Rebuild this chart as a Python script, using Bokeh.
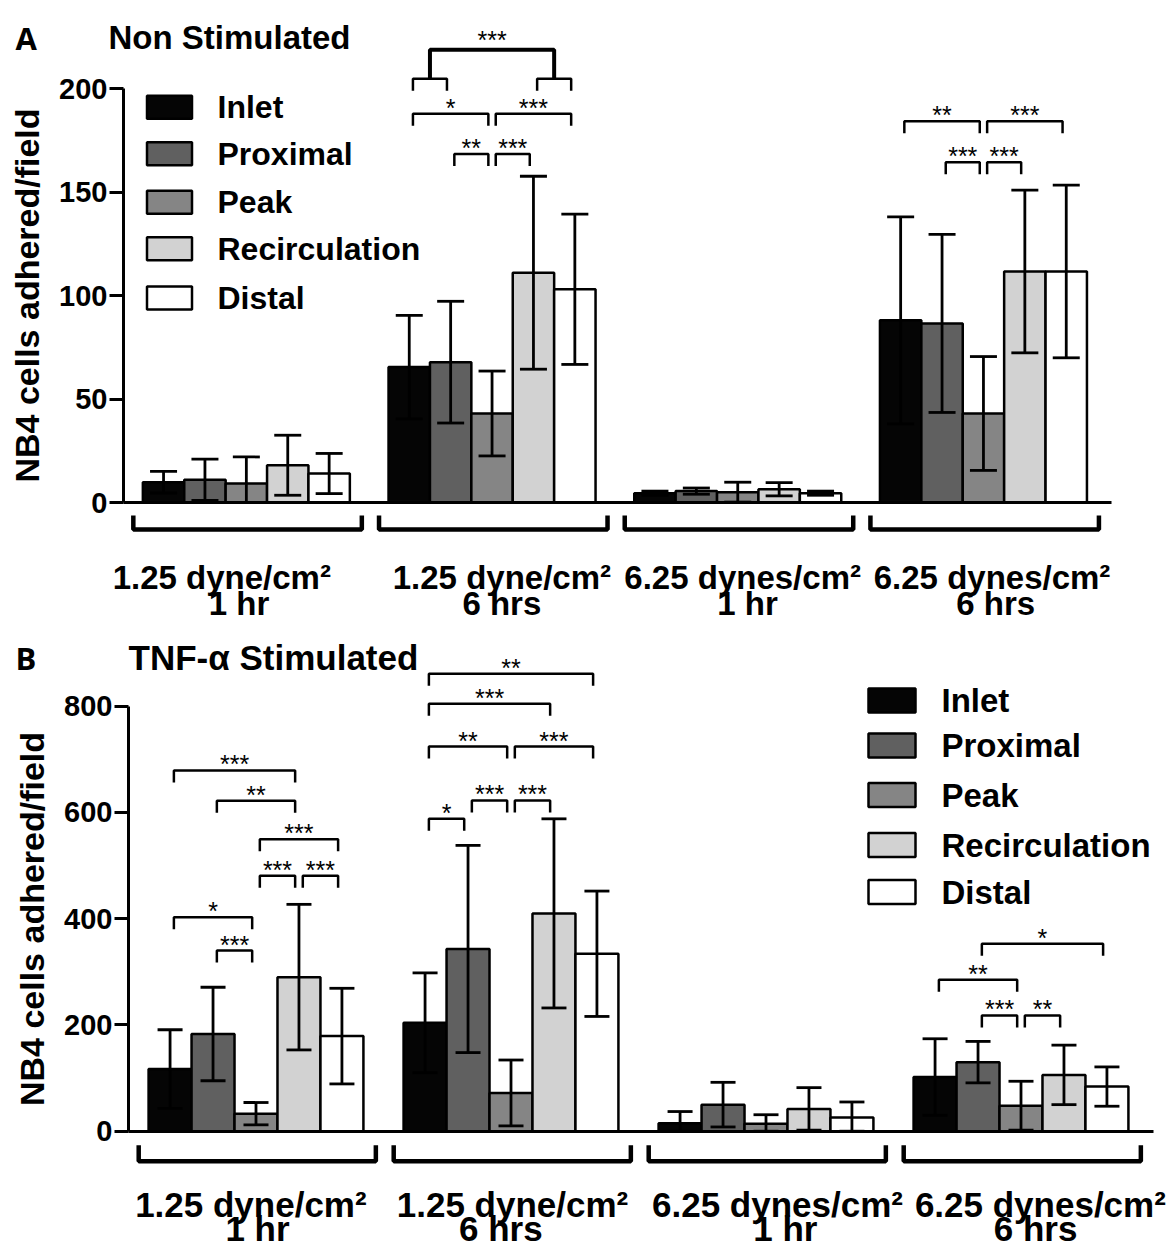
from bokeh.plotting import figure
from bokeh.models import Range1d, Whisker, ColumnDataSource, TeeHead, FixedTicker
from bokeh.layouts import column
from bokeh.embed import file_html
from bokeh.resources import INLINE
from bokeh.core.properties import value

# ---------------- data ----------------
categories = ["Inlet", "Proximal", "Peak", "Recirculation", "Distal"]
cond_line1 = ["1.25 dyne/cm²", "1.25 dyne/cm²", "6.25 dynes/cm²", "6.25 dynes/cm²"]
cond_line2 = ["1 hr", "6 hrs", "1 hr", "6 hrs"]
bar_colors = ["#050505", "#606060", "#858585", "#d2d2d2", "#ffffff"]

# Panel A: Non Stimulated (mean, sd) per location, across the 4 conditions
a_inlet = [9.8, 65.4, 4.5, 88.0]
a_proximal = [11.0, 67.8, 5.5, 86.5]
a_peak = [9.2, 43.0, 5.0, 43.0]
a_recirc = [18.0, 111.0, 6.4, 111.6]
a_distal = [14.0, 103.0, 4.5, 111.6]
a_inlet_sd = [5.2, 25.0, 1.0, 50.0]
a_proximal_sd = [10.0, 29.4, 1.5, 43.0]
a_peak_sd = [12.8, 20.5, 4.8, 27.5]
a_recirc_sd = [14.5, 46.6, 3.2, 39.3]
a_distal_sd = [9.7, 36.3, 1.0, 41.7]
a_ticks = [0, 50, 100, 150, 200]

# Panel B: TNF-alpha Stimulated
b_inlet = [117, 204, 15, 102]
b_proximal = [183, 343, 50, 130]
b_peak = [33, 72, 14, 48]
b_recirc = [290, 410, 42, 106]
b_distal = [179, 334, 26, 84]
b_inlet_sd = [74, 94, 22, 72]
b_proximal_sd = [88, 195, 42, 39]
b_peak_sd = [21, 62, 17, 46]
b_recirc_sd = [137, 178, 40, 56]
b_distal_sd = [90, 118, 29, 37]
b_ticks = [0, 200, 400, 600, 800]

# significance brackets: (condition index, bar i, bar j, level, label)
a_brackets = [
    (1, 1, 2, 168.4, "**"), (1, 2, 3, 168.4, "***"),
    (1, 0, 2, 187.8, "*"), (1, 2, 4, 187.8, "***"),
    (1, 0, 1, 204.7, ""), (1, 3, 4, 204.7, ""),
    (3, 0, 2, 184.2, "**"), (3, 2, 4, 184.2, "***"),
    (3, 1, 2, 164.4, "***"), (3, 2, 3, 164.4, "***"),
]
# nested comparison: (condition, left pair, right pair, pair level, top level, label)
a_nested = [(1, (0, 1), (3, 4), 204.7, 218.7, "***")]

b_brackets = [
    (0, 0, 3, 679, "***"), (0, 1, 3, 622, "**"), (0, 2, 4, 549.6, "***"),
    (0, 2, 3, 481, "***"), (0, 3, 4, 481, "***"), (0, 0, 2, 402.8, "*"),
    (0, 1, 2, 340, "***"),
    (1, 0, 4, 861, "**"), (1, 0, 3, 804.5, "***"), (1, 0, 2, 724, "**"),
    (1, 2, 4, 724, "***"), (1, 0, 1, 588, "*"), (1, 1, 2, 622.5, "***"),
    (1, 2, 3, 622.5, "***"),
    (3, 1, 4, 352.8, "*"), (3, 0, 2, 285, "**"), (3, 1, 2, 217.8, "***"),
    (3, 2, 3, 217.8, "**"),
]

BW = 0.1685
SANS = "Liberation Sans"


def bar_x(g, k):
    return g + (k - 2) * BW


def make_panel(means, sds, ticks, brackets, nested, cfg):
    x0p, sxp, y0p, syp = cfg["x0p"], cfg["sxp"], cfg["y0p"], cfg["syp"]
    top, bot = cfg["page_top"], cfg["page_bot"]

    def dx(px):
        return -0.5 + (px - x0p) / sxp

    def dy(py):
        return (y0p - py) / syp

    W = 1173
    H = bot - top
    p = figure(width=W, height=H, output_backend="svg", toolbar_location=None,
               x_range=Range1d(dx(0), dx(W)), y_range=Range1d(dy(bot), dy(top)),
               min_border_left=0, min_border_right=0,
               min_border_top=0, min_border_bottom=0)
    p.outline_line_color = None
    p.grid.visible = False
    p.background_fill_color = "white"

    # bars and error bars
    for k, cat in enumerate(categories):
        xs = [bar_x(g, k) for g in range(4)]
        m = means[k]
        s = sds[k]
        src = ColumnDataSource(dict(x=xs, top=m,
                                    upper=[a + b for a, b in zip(m, s)],
                                    lower=[max(0, a - b) for a, b in zip(m, s)]))
        p.vbar(x="x", top="top", bottom=0, width=BW, source=src,
               fill_color=bar_colors[k], line_color="black", line_width=2.5)
        w = Whisker(base="x", upper="upper", lower="lower", source=src,
                    line_color="black", line_width=2.8, level="overlay",
                    upper_head=TeeHead(size=cfg["cap"], line_width=2.8, line_color="black"),
                    lower_head=TeeHead(size=cfg["cap"], line_width=2.8, line_color="black"))
        p.add_layout(w)

    # axes (placed at fixed data locations inside the frame)
    p.xaxis.fixed_location = 0
    p.xaxis.bounds = (-0.5, 3.52)
    p.xaxis.axis_line_width = 3
    p.xaxis.major_tick_line_color = None
    p.xaxis.minor_tick_line_color = None
    p.xaxis.major_label_text_font_size = "0px"
    p.xaxis.major_label_standoff = 0
    p.xaxis.major_tick_out = 0
    p.xaxis.ticker = FixedTicker(ticks=[])

    yax = p.yaxis[0]
    yax.fixed_location = -0.5
    yax.bounds = (ticks[0], ticks[-1])
    yax.ticker = FixedTicker(ticks=ticks)
    yax.axis_line_width = 3
    yax.major_tick_line_width = 3
    yax.major_tick_out = 14
    yax.major_tick_in = 0
    yax.minor_tick_line_color = None
    yax.major_label_text_font = SANS
    yax.major_label_text_font_style = "bold"
    yax.major_label_text_font_size = "29px"
    yax.major_label_text_color = "black"
    yax.major_label_standoff = 2
    yax.axis_label = "NB4 cells adhered/field"
    yax.axis_label_text_font = SANS
    yax.axis_label_text_font_style = "bold"
    yax.axis_label_text_font_size = "34px"
    yax.axis_label_text_color = "black"
    yax.axis_label_standoff = 10

    # category brackets and labels below the baseline
    bxs, bys = [], []
    for g in range(4):
        xa, xb = g - 0.46, g + 0.47
        bxs.append([xa, xa, xb, xb])
        bys.append([dy(y0p + cfg["gb_top"]), dy(y0p + cfg["gb_line"]),
                    dy(y0p + cfg["gb_line"]), dy(y0p + cfg["gb_top"])])
    p.multi_line(bxs, bys, line_color="black", line_width=4.5)
    p.text(x=[g + o for g, o in zip(range(4), cfg["l1_off"])],
           y=[dy(y0p + cfg["l1_mid"])] * 4, text=cond_line1,
           text_font=value(SANS), text_font_style="bold", text_font_size=cfg["gl_size"],
           text_align="center", text_baseline="middle", text_color="black")
    p.text(x=[g + o for g, o in zip(range(4), cfg["l2_off"])],
           y=[dy(y0p + cfg["l2_mid"])] * 4, text=cond_line2,
           text_font=value(SANS), text_font_style="bold", text_font_size=cfg["gl_size"],
           text_align="center", text_baseline="middle", text_color="black")

    # significance brackets
    drop = 12.0 / syp
    toff = 6.0 / syp
    sx, sy, tx, ty, tt = [], [], [], [], []
    for g, i, j, lvl, lab in brackets:
        xa = bar_x(g, i) + 0.015
        xb = bar_x(g, j) - 0.015
        sx.append([xa, xa, xb, xb])
        sy.append([lvl - drop, lvl, lvl, lvl - drop])
        if lab:
            tx.append((xa + xb) / 2)
            ty.append(lvl + toff)
            tt.append(lab)
    p.multi_line(sx, sy, line_color="black", line_width=2.5)
    nx, ny = [], []
    for g, lp, rp, lvl, top_lvl, lab in nested:
        xl = (bar_x(g, lp[0]) + bar_x(g, lp[1])) / 2
        xr = (bar_x(g, rp[0]) + bar_x(g, rp[1])) / 2
        nx.append([xl, xl, xr, xr])
        ny.append([lvl, top_lvl, top_lvl, lvl])
        tx.append((xl + xr) / 2)
        ty.append(top_lvl + 10.0 / syp)
        tt.append(lab)
    if nx:
        p.multi_line(nx, ny, line_color="black", line_width=4)
    p.text(x=tx, y=ty, text=tt, text_font=value(SANS), text_font_size="25px",
           text_align="center", text_baseline="middle", text_color="black")

    # legend (drawn as swatches + labels)
    lx = dx(cfg["leg_x"])
    ltx = dx(cfg["leg_tx"])
    lys = [dy(v) for v in cfg["leg_y"]]
    p.rect(x=[lx] * 5, y=lys, width=cfg["leg_w"], height=cfg["leg_h"],
           width_units="screen", height_units="screen",
           fill_color=bar_colors, line_color="black", line_width=2.5)
    p.text(x=[ltx] * 5, y=lys, text=categories, text_font=value(SANS),
           text_font_style="bold", text_font_size=cfg["leg_size"],
           text_align="left", text_baseline="middle", text_color="black")

    # panel letter and title
    p.text(x=[dx(cfg["letter_x"])], y=[dy(cfg["title_mid"])], text=[cfg["letter"]],
           text_font=value("Open Sans"), text_font_style="bold", text_font_size="31px",
           text_baseline="middle", text_color="black")
    p.text(x=[dx(cfg["title_x"])], y=[dy(cfg["title_mid"])], text=[cfg["title"]],
           text_font=value(SANS), text_font_style="bold", text_font_size=cfg["title_size"],
           text_baseline="middle", text_color="black")
    return p


cfg_a = dict(x0p=123, sxp=245.7, y0p=502, syp=2.07, page_top=0, page_bot=632,
             cap=27, gb_top=13, gb_line=27, l1_mid=75, l2_mid=101, gl_size="33px",
             l1_off=[-0.10, 0.04, 0.02, 0.035], l2_off=[-0.03, 0.04, 0.04, 0.05],
             leg_x=169, leg_tx=217, leg_y=[106.7, 153.3, 201.7, 248.3, 297.5],
             leg_w=45, leg_h=23, leg_size="32px",
             letter="A", letter_x=15, title="Non Stimulated", title_x=108, title_mid=37,
             title_size="33px")
cfg_b = dict(x0p=128, sxp=255.0, y0p=1130.7, syp=0.53125, page_top=632, page_bot=1250,
             cap=25, gb_top=14, gb_line=30, l1_mid=73, l2_mid=97,
             gl_size="35px",
             l1_off=[-0.02, 0.006, 0.045, 0.076], l2_off=[0.006, -0.04, 0.076, 0.057],
             leg_x=891.5, leg_tx=941, leg_y=[700, 745, 794.5, 844.5, 891.5],
             leg_w=47, leg_h=24, leg_size="33px",
             letter="B", letter_x=15, title="TNF-α Stimulated", title_x=128, title_mid=657,
             title_size="35px")

pa = make_panel([a_inlet, a_proximal, a_peak, a_recirc, a_distal],
                [a_inlet_sd, a_proximal_sd, a_peak_sd, a_recirc_sd, a_distal_sd],
                a_ticks, a_brackets, a_nested, cfg_a)
pb = make_panel([b_inlet, b_proximal, b_peak, b_recirc, b_distal],
                [b_inlet_sd, b_proximal_sd, b_peak_sd, b_recirc_sd, b_distal_sd],
                b_ticks, b_brackets, [], cfg_b)

layout = column(pa, pb, spacing=0)
open("out.html", "w").write(file_html(layout, INLINE))
